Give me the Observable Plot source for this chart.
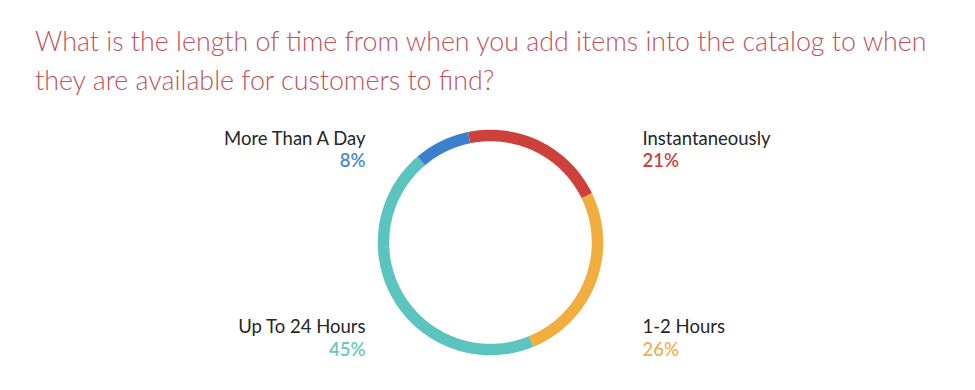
<!DOCTYPE html>
<html>
<head>
<meta charset="utf-8">
<script src="https://cdn.jsdelivr.net/npm/d3@7"></script>
<script src="https://cdn.jsdelivr.net/npm/@observablehq/plot@0.6"></script>
<style>
  html, body { margin: 0; padding: 0; background: #fff; }
  #title {
    box-sizing: border-box;
    height: 105px;
    padding: 22px 0 0 35px;
    font-family: Lato, "Open Sans", sans-serif;
    font-weight: 300;
    font-size: 26.8px;
    line-height: 39px;
    color: #c2525b;
    white-space: nowrap;
  }
  svg { display: block; }
</style>
</head>
<body>
<div id="title">What is the length of time from when you add items into the catalog to when<br>they are available for customers to find?</div>
<div id="chart"></div>
<script>
const categories = ["Instantaneously", "1-2 Hours", "Up To 24 Hours", "More Than A Day"];
const values = [21, 26, 45, 8];
const ringColors = ["#d0403a", "#f1ae3e", "#5cc4be", "#3b80cc"];
const pctColors = ["#c9443e", "#efb15a", "#6bc6c0", "#4b88ca"];

// layout (pixels)
const W = 975, H = 285;
const CX = 490, CY = 137, R = 107;     // ring centre and mid-radius
const START_DEG = -11.5;               // rotation of first slice
const total = d3.sum(values);

// scales: 1 data unit = R pixels, centre at (0,0)
const xDomain = [-CX / R, (W - CX) / R];
const yDomain = [-(H - CY) / R, CY / R];

// arc points for each slice (geometry from the values)
const points = [];
let acc = 0;
const slices = categories.map((cat, i) => {
  const a0 = (START_DEG + acc / total * 360) * Math.PI / 180;
  acc += values[i];
  const a1 = (START_DEG + acc / total * 360) * Math.PI / 180;
  const n = 120;
  for (let k = 0; k <= n; ++k) {
    const a = a0 + (a1 - a0) * k / n;
    points.push({cat, x: Math.sin(a), y: Math.cos(a)});
  }
  const mid = (a0 + a1) / 2;
  return {cat, value: values[i], mid, right: Math.sin(mid) > 0, top: Math.cos(mid) > 0, color: pctColors[i]};
});

// label placement relative to ring centre (pixels)
const px = p => p / R;
const labelX = s => s.right ? px(152) : px(-125);
const nameY = s => s.top ? px(98) : px(-90);
const pctY = s => s.top ? px(76) : px(-113);
const FS = 18.5;
const baselineShift = FS * 0.32;

const labelMarks = side => {
  const data = slices.filter(s => s.right === side);
  const anchor = side ? "start" : "end";
  return [
    Plot.text(data, {
      x: labelX, y: nameY, text: "cat", textAnchor: anchor,
      fontSize: FS, fill: "#262626", fontFamily: "Lato, sans-serif",
      dy: -baselineShift
    }),
    Plot.text(data, {
      x: labelX, y: pctY, text: s => s.value + "%", textAnchor: anchor,
      fontSize: FS, fill: s => s.color, fontWeight: 600, fontFamily: "Lato, sans-serif",
      dy: -baselineShift
    })
  ];
};

const chart = Plot.plot({
  width: W,
  height: H,
  margin: 0,
  x: {domain: xDomain, axis: null},
  y: {domain: yDomain, axis: null},
  color: {domain: categories, range: ringColors},
  marks: [
    Plot.line(points, {x: "x", y: "y", z: "cat", stroke: "cat", strokeWidth: 11.5, strokeLinecap: "butt", curve: "linear"}),
    ...labelMarks(true),
    ...labelMarks(false)
  ]
});
document.getElementById("chart").appendChild(chart);
</script>
</body>
</html>
